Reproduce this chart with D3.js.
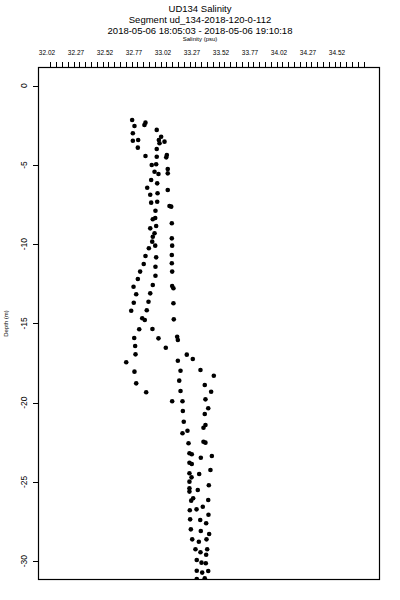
<!DOCTYPE html>
<html>
<head>
<meta charset="utf-8">
<script src="https://cdn.jsdelivr.net/npm/d3@7"></script>
<style>
  body { margin: 0; background: #fff; }
  text { font-family: "Liberation Sans", Arial, sans-serif; fill: #000; }
</style>
</head>
<body>
<div id="salinity_profile"></div>
<script>
var titleLines = ["UD134 Salinity", "Segment ud_134-2018-120-0-112", "2018-05-06 18:05:03 - 2018-05-06 19:10:18"];
var xLabel = "Salinity (psu)";
var yLabel = "Depth (m)";
var xTickLabels = [32.02, 32.27, 32.52, 32.77, 33.02, 33.27, 33.52, 33.77, 34.02, 34.27, 34.52];
var yTickValues = [0, -5, -10, -15, -20, -25, -30];

// salinity (psu), paired with depth (m) below
var salinity = [
  32.754, 32.774, 32.869, 32.860, 32.966, 32.760, 32.760, 32.806, 33.004, 32.984,
  33.033, 32.990, 32.803, 32.966, 32.869, 32.966, 33.053, 33.048, 32.923, 32.961,
  33.061, 33.061, 32.947, 32.981, 32.918, 32.970, 32.884, 33.061, 32.910, 32.973,
  32.918, 32.970, 33.076, 33.091, 32.955, 32.932, 32.953, 33.096, 32.910, 32.961,
  32.947, 32.932, 32.927, 33.096, 32.953, 32.898, 33.099, 32.869, 32.961, 33.096,
  32.854, 32.955, 33.096, 32.823, 33.099, 32.803, 32.955, 32.766, 32.932, 33.099,
  33.110, 32.789, 32.910, 32.768, 32.895, 33.110, 32.746, 32.880, 32.841, 32.863,
  33.113, 32.815, 32.929, 33.142, 33.148, 32.772, 32.981, 32.780, 33.044, 32.783,
  33.225, 33.277, 32.703, 33.148, 33.171, 33.343, 33.458, 32.774, 33.160, 32.789,
  33.380, 33.171, 33.435, 32.875, 33.099, 33.188, 33.386, 33.191, 33.410, 33.380,
  33.199, 33.386, 33.369, 33.231, 33.188, 33.240, 33.369, 33.386, 33.248, 33.268,
  33.346, 33.441, 33.248, 33.268, 33.248, 33.266, 33.332, 33.429, 33.248, 33.248,
  33.248, 33.320, 33.415, 33.263, 33.280, 33.410, 33.251, 33.309, 33.363, 33.254,
  33.341, 33.412, 33.260, 33.346, 33.392, 33.272, 33.329, 33.395, 33.418, 33.300,
  33.343, 33.401, 33.392, 33.311, 33.352, 33.389, 33.311, 33.358, 33.410, 33.380,
  33.311
];
var depth = [
  -2.16, -2.54, -2.33, -2.48, -2.79, -3.00, -3.47, -3.43, -3.22, -3.43,
  -3.53, -3.63, -3.91, -3.99, -4.44, -4.48, -4.37, -4.52, -5.00, -4.96,
  -5.26, -5.53, -5.43, -5.57, -5.95, -6.16, -6.44, -6.58, -6.88, -6.79,
  -7.38, -7.32, -7.59, -7.63, -7.89, -8.43, -8.35, -8.68, -9.00, -8.85,
  -9.31, -9.53, -9.84, -9.63, -10.09, -10.26, -10.09, -10.74, -10.83, -10.68,
  -11.25, -11.42, -11.20, -11.73, -11.73, -12.20, -11.99, -12.68, -12.57, -12.64,
  -12.78, -13.16, -13.10, -13.69, -13.63, -13.73, -14.20, -14.17, -14.67, -14.78,
  -14.74, -15.37, -15.35, -15.84, -16.04, -15.92, -15.94, -16.42, -16.53, -16.95,
  -16.97, -17.24, -17.45, -17.35, -17.98, -17.94, -18.30, -18.04, -18.61, -18.78,
  -18.88, -19.26, -19.31, -19.34, -19.91, -19.91, -19.79, -20.52, -20.35, -20.71,
  -21.20, -21.41, -21.58, -21.77, -21.93, -22.56, -22.46, -22.52, -23.19, -23.25,
  -23.47, -23.36, -23.79, -23.87, -24.45, -24.71, -24.50, -24.25, -24.98, -25.40,
  -25.61, -25.51, -25.21, -26.18, -26.03, -26.14, -26.79, -26.73, -26.56, -27.36,
  -27.40, -27.07, -27.99, -28.09, -27.61, -28.62, -28.77, -28.62, -28.28, -29.25,
  -29.44, -29.25, -29.59, -29.92, -30.09, -30.13, -30.60, -30.72, -30.62, -31.08,
  -31.12
];

function drawProfile(htmlSelector) {
    var width = 400, height = 600;
    var box = {left: 38.5, right: 379.5, top: 67.5, bottom: 579.5};

    var svg = d3.select(htmlSelector).append("svg")
        .attr("width", width)
        .attr("height", height);

    var x = d3.scaleLinear()
        .domain([32.02, 34.52])
        .range([47, 337]);

    var y = d3.scaleLinear()
        .domain([0, -30])
        .range([85.7, 561.2]);

    // titles
    svg.append("g")
        .attr("text-anchor", "middle")
        .attr("font-size", 9.5)
        .selectAll("text")
        .data(titleLines)
        .enter().append("text")
            .attr("x", 200)
            .attr("y", function(d, i) { return 12 + i * 11; })
            .text(function(d) { return d; });

    svg.append("text")
        .attr("x", 200)
        .attr("y", 41)
        .attr("text-anchor", "middle")
        .attr("font-size", 6)
        .text(xLabel);

    // top axis: minor ticks every 0.05, labels every 0.25
    var minorTicks = d3.range(32.05, 34.76, 0.05);
    svg.append("g")
        .selectAll("line")
        .data(minorTicks)
        .enter().append("line")
            .attr("x1", function(d) { return Math.round(x(d)) + 0.5; })
            .attr("x2", function(d) { return Math.round(x(d)) + 0.5; })
            .attr("y1", box.top - 5.5)
            .attr("y2", box.top)
            .attr("stroke", "#000");

    svg.append("g")
        .attr("text-anchor", "middle")
        .attr("font-size", 6.5)
        .selectAll("text")
        .data(xTickLabels)
        .enter().append("text")
            .attr("x", function(d) { return x(d); })
            .attr("y", 55)
            .text(function(d) { return d.toFixed(2); });

    // left axis
    var yAxis = svg.append("g");
    yAxis.selectAll("line")
        .data(yTickValues)
        .enter().append("line")
            .attr("x1", box.left - 5.5)
            .attr("x2", box.left)
            .attr("y1", function(d) { return Math.round(y(d)) + 0.5; })
            .attr("y2", function(d) { return Math.round(y(d)) + 0.5; })
            .attr("stroke", "#000");
    yAxis.selectAll("text")
        .data(yTickValues)
        .enter().append("text")
            .attr("transform", function(d) { return "translate(27," + y(d) + ") rotate(-90)"; })
            .attr("text-anchor", "middle")
            .attr("font-size", 8.5)
            .text(function(d) { return d; });

    svg.append("text")
        .attr("transform", "translate(8," + (box.top + box.bottom) / 2 + ") rotate(-90)")
        .attr("text-anchor", "middle")
        .attr("font-size", 6)
        .text(yLabel);

    // points, clipped to the frame
    svg.append("clipPath")
        .attr("id", "frame_clip")
        .append("rect")
            .attr("x", box.left)
            .attr("y", box.top)
            .attr("width", box.right - box.left)
            .attr("height", box.bottom - box.top);

    var points = salinity.map(function(s, i) { return {s: s, d: depth[i]}; });
    svg.append("g")
        .attr("clip-path", "url(#frame_clip)")
        .selectAll("circle")
        .data(points)
        .enter().append("circle")
            .attr("cx", function(p) { return x(p.s); })
            .attr("cy", function(p) { return y(p.d); })
            .attr("r", 2.3)
            .attr("fill", "#000");

    // frame (left, top, right, bottom)
    svg.append("rect")
        .attr("x", box.left)
        .attr("y", box.top)
        .attr("width", box.right - box.left)
        .attr("height", box.bottom - box.top)
        .attr("fill", "none")
        .attr("stroke", "#000")
        .attr("stroke-width", 1.2);
}

drawProfile("#salinity_profile");
</script>
</body>
</html>
